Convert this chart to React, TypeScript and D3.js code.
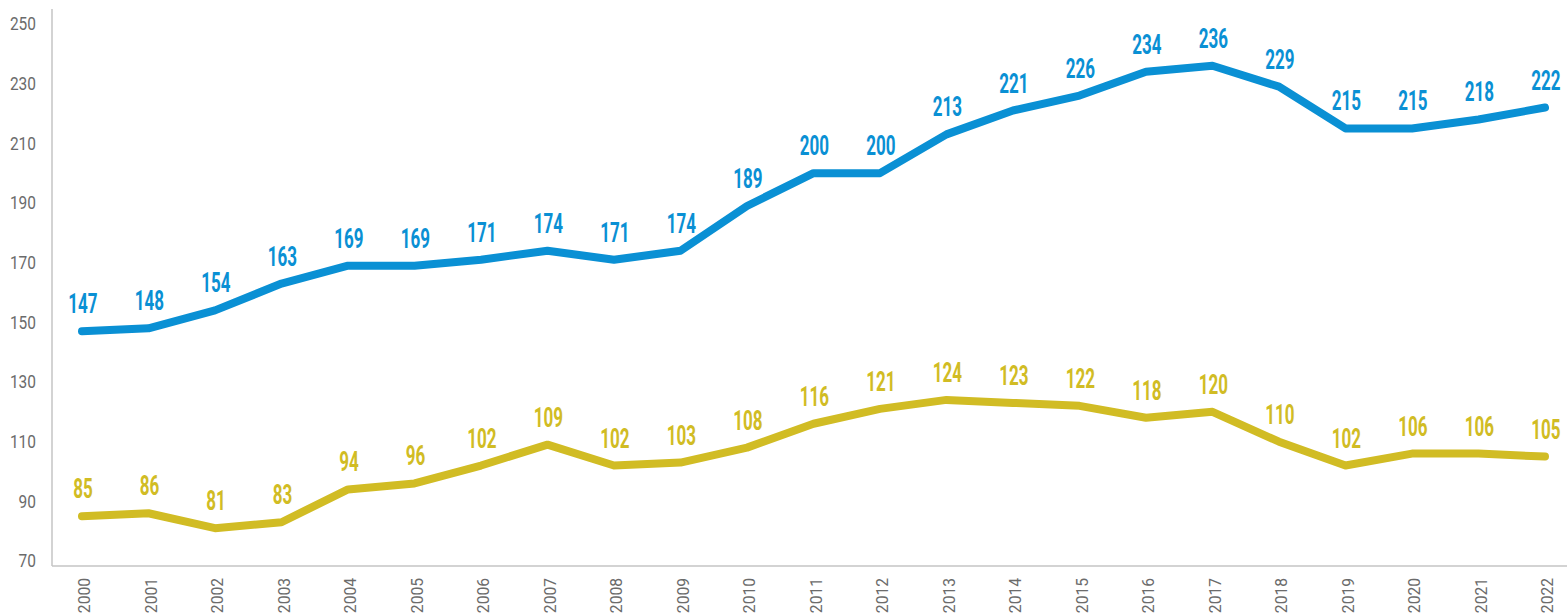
import React from "react";
import * as d3 from "d3";

const years = [2000,2001,2002,2003,2004,2005,2006,2007,2008,2009,2010,2011,2012,2013,2014,2015,2016,2017,2018,2019,2020,2021,2022];
const blueValues = [147,148,154,163,169,169,171,174,171,174,189,200,200,213,221,226,234,236,229,215,215,218,222];
const goldValues = [85,86,81,83,94,96,102,109,102,103,108,116,121,124,123,122,118,120,110,102,106,106,105];
const yTicks = [70,90,110,130,150,170,190,210,230,250];

const W = 1567, H = 616;
const BLUE = "#0a90d4";
const GOLD = "#d1bc24";

export default function App() {
  const x = d3.scaleLinear().domain([2000, 2022]).range([82, 1545]);
  const y = d3.scaleLinear().domain([70, 250]).range([561, 24]);
  const line = d3.line<number>().x((_, i) => x(years[i])).y((d) => y(d)).curve(d3.curveLinear);
  const series = [
    { values: blueValues, color: BLUE },
    { values: goldValues, color: GOLD },
  ];
  return (
    <svg width={W} height={H} style={{ position: "absolute", left: 0, top: 0, background: "#fff" }}>
      <line x1={52} x2={52} y1={9} y2={566} stroke="#c4c4c4" strokeWidth={1.5} />
      <line x1={52} x2={W} y1={566} y2={566} stroke="#c4c4c4" strokeWidth={1.5} />
      {yTicks.map((t) => (
        <text key={t} transform={`translate(36,${y(t)}) scale(0.86,1)`} dy="0.36em" textAnchor="end" fontFamily="Roboto, 'Open Sans', sans-serif" fontSize={18} fill="#6b6b6b">{t}</text>
      ))}
      {years.map((yr) => (
        <text key={yr} transform={`translate(${x(yr) + 8},578) rotate(-90) scale(0.92,1)`} textAnchor="end" fontFamily="Roboto, 'Open Sans', sans-serif" fontSize={17} fill="#6b6b6b">{yr}</text>
      ))}
      {series.map((s, si) => (
        <g key={si}>
          <path d={line(s.values) || ""} fill="none" stroke={s.color} strokeWidth={8} strokeLinejoin="round" strokeLinecap="round" />
          {s.values.map((v, i) => (
            <text key={i} transform={`translate(${x(years[i]) + 1},${y(v) - 18}) scale(0.63,1)`} textAnchor="middle" fontFamily="Roboto, sans-serif" fontWeight={700} fontSize={27} fill={s.color}>{v}</text>
          ))}
        </g>
      ))}
    </svg>
  );
}
